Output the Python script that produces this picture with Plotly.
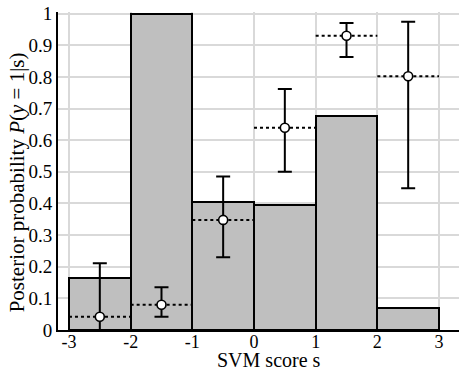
import plotly.graph_objects as go

# Histogram of SVM scores (bin edges -3..3, width 1)
bin_centers = [-2.5, -1.5, -0.5, 0.5, 1.5, 2.5]
bar_heights = [0.164, 1.0, 0.406, 0.394, 0.677, 0.069]

# Empirical posterior per bin with confidence interval
post_mean = [0.042, 0.080, 0.348, 0.639, 0.930, 0.802]
post_low = [0.0, 0.042, 0.230, 0.500, 0.863, 0.448]
post_high = [0.211, 0.135, 0.485, 0.762, 0.970, 0.974]

x_ticks = [-3, -2, -1, 0, 1, 2, 3]
x_tick_text = ["-3", "-2", "-1", "0", "1", "2", "3"]
y_ticks = [0, 0.1, 0.2, 0.3, 0.4, 0.5, 0.6, 0.7, 0.8, 0.9, 1]
y_tick_text = ["0", "0.1", "0.2", "0.3", "0.4", "0.5", "0.6", "0.7", "0.8", "0.9", "1"]

font_family = "Liberation Serif"

fig = go.Figure()

fig.add_trace(go.Bar(
    x=bin_centers, y=bar_heights, width=1,
    marker=dict(color="#bfbfbf", line=dict(color="black", width=2)),
    showlegend=False,
))

# Dotted level line across each bin
dx, dy = [], []
for c, m in zip(bin_centers, post_mean):
    dx += [c - 0.5, c + 0.5, None]
    dy += [m, m, None]
fig.add_trace(go.Scatter(
    x=dx, y=dy, mode="lines",
    line=dict(color="black", width=2, dash="dot"),
    showlegend=False, hoverinfo="skip",
))

fig.add_trace(go.Scatter(
    x=bin_centers, y=post_mean, mode="markers",
    marker=dict(symbol="circle", size=9, color="white",
                line=dict(color="black", width=1.6)),
    error_y=dict(type="data", symmetric=False,
                 array=[h - m for h, m in zip(post_high, post_mean)],
                 arrayminus=[m - l for m, l in zip(post_mean, post_low)],
                 color="black", thickness=2, width=7),
    showlegend=False, cliponaxis=False,
))

fig.update_layout(
    width=459, height=373,
    margin=dict(l=58, r=0, t=12, b=43),
    plot_bgcolor="white", paper_bgcolor="white",
    font=dict(family=font_family, size=19, color="black"),
    bargap=0,
    xaxis=dict(
        range=[-3.178, 3.324],
        tickvals=x_ticks, ticktext=x_tick_text,
        showgrid=True, gridcolor="#d9d9d9", gridwidth=1.5,
        showline=True, linecolor="black", linewidth=2,
        ticks="", ticklen=0, zeroline=False,
        ticklabelstandoff=-6,
        tickfont=dict(size=18),
    ),
    yaxis=dict(
        range=[0, 1.005],
        tickvals=y_ticks, ticktext=y_tick_text,
        showgrid=True, gridcolor="#d9d9d9", gridwidth=1.5,
        showline=True, linecolor="black", linewidth=2,
        ticks="", ticklen=0, zeroline=False,
        tickfont=dict(size=19),
    ),
    annotations=[
        dict(text="SVM score s", x=0.25, xref="x", y=-0.136, yref="paper",
             xanchor="center", yanchor="bottom", showarrow=False,
             font=dict(size=20)),
        dict(text="Posterior probability <i>P</i>(<i>y</i> = 1|s)",
             x=-0.102, xref="paper", y=0.467, yref="y", textangle=-90,
             xanchor="center", yanchor="middle", showarrow=False,
             font=dict(size=21)),
    ],
)

fig.write_html("out.html")
